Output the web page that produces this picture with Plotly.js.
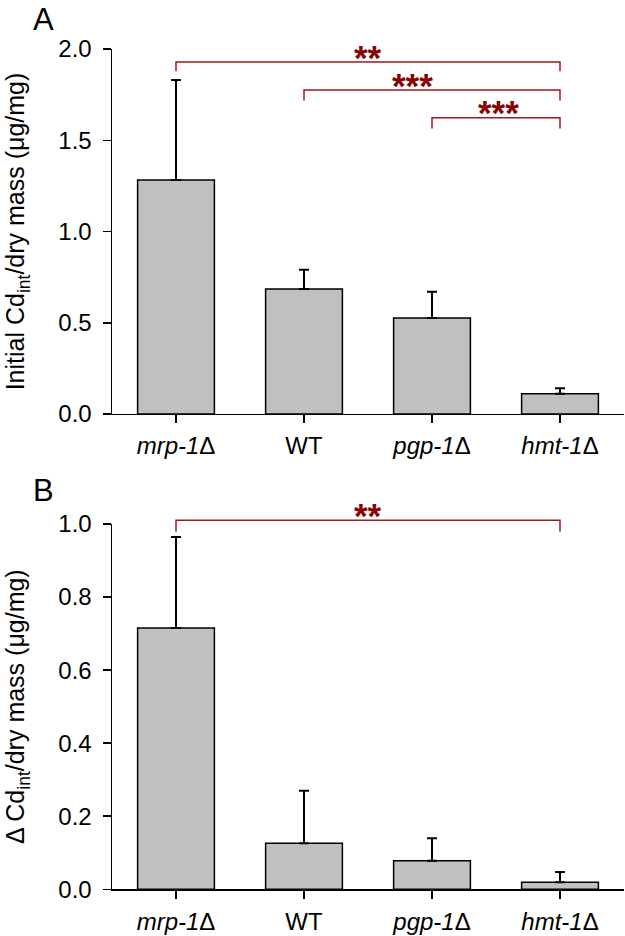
<!DOCTYPE html>
<html>
<head>
<meta charset="utf-8">
<script src="https://cdn.plot.ly/plotly-3.0.1.min.js"></script>
<style>
html,body{margin:0;padding:0;background:#fff;}
#chart{width:625px;height:936px;}
</style>
</head>
<body>
<div id="chart"></div>
<script>
// ---- data ----
const categories = ['mrp-1Δ', 'WT', 'pgp-1Δ', 'hmt-1Δ'];
const tickLabels = ['<i>mrp-1</i>Δ', 'WT', '<i>pgp-1</i>Δ', '<i>hmt-1</i>Δ'];

// Panel A: initial Cd_int / dry mass (µg/mg), mean and upper error
const initialCd = [1.282, 0.685, 0.526, 0.111];
const initialCdErr = [0.548, 0.106, 0.144, 0.030];

// Panel B: delta Cd_int / dry mass (µg/mg), mean and upper error
const deltaCd = [0.715, 0.126, 0.078, 0.019];
const deltaCdErr = [0.249, 0.144, 0.062, 0.028];

// significance comparisons (category index pairs), bracket level, label
const sigPairsA = [[0, 3], [1, 3], [2, 3]];
const sigLevelA = [1.929, 1.775, 1.624];
const sigLegA = [1.878, 1.718, 1.565];
const sigLabelA = ['**', '***', '***'];
const sigLabelXA = [1.5, 1.845, 2.518];

const sigPairsB = [[0, 3]];
const sigLevelB = [1.010];
const sigLegB = [0.979];
const sigLabelB = ['**'];
const sigLabelXB = [1.5];

// ---- styles ----
const FONT = 'Liberation Sans, Arial, sans-serif';
const barColor = '#c0c0c0';
const sigLineColor = '#a3191c';
const sigTextColor = '#8b0000';
const yRangeA = [0, 2.0];
const yRangeB = [0, 1.0];

function barTrace(y, err, xa, ya) {
  return {
    type: 'bar',
    x: categories,
    y: y,
    xaxis: xa,
    yaxis: ya,
    width: 0.6,
    marker: {color: barColor, line: {color: '#000', width: 1.5}},
    error_y: {
      type: 'data', symmetric: false,
      array: err, arrayminus: err.map(() => 0),
      color: '#000', thickness: 2, width: 5
    },
    hoverinfo: 'skip',
    showlegend: false
  };
}

const traces = [
  barTrace(initialCd, initialCdErr, 'x', 'y'),
  barTrace(deltaCd, deltaCdErr, 'x2', 'y2')
];

const shapes = [];
const annotations = [];
const nCat = categories.length;
function catDom(i) { return (i + 0.5) / nCat; }

function addBrackets(pairs, level, leg, labels, labelX, xa, ya, yMax) {
  pairs.forEach((p, k) => {
    const xd0 = catDom(p[0]), xd1 = catDom(p[1]);
    const yl = level[k] / yMax, yg = leg[k] / yMax;
    shapes.push({
      type: 'path',
      xref: xa + ' domain', yref: ya + ' domain',
      path: `M${xd0},${yg} L${xd0},${yl} L${xd1},${yl} L${xd1},${yg}`,
      line: {color: sigLineColor, width: 1.5}
    });
    annotations.push({
      xref: xa + ' domain', yref: ya + ' domain',
      x: (labelX[k] + 0.5) / nCat, y: yl,
      text: labels[k], showarrow: false,
      xanchor: 'center', yanchor: 'middle', yshift: 5,
      font: {family: FONT, size: 35, color: sigTextColor, weight: 'bold'}
    });
  });
}
addBrackets(sigPairsA, sigLevelA, sigLegA, sigLabelA, sigLabelXA, 'x', 'y', yRangeA[1]);
addBrackets(sigPairsB, sigLevelB, sigLegB, sigLabelB, sigLabelXB, 'x2', 'y2', yRangeB[1]);

annotations.push({xref: 'paper', yref: 'paper', x: -0.134, y: 1, text: 'A',
  showarrow: false, xanchor: 'center', yanchor: 'top', font: {family: FONT, size: 31, color: '#000'}});
annotations.push({xref: 'paper', yref: 'paper', x: -0.134, y: 0.476, text: 'B',
  showarrow: false, xanchor: 'center', yanchor: 'middle', font: {family: FONT, size: 31, color: '#000'}});

function xAxis(anchor) {
  return {
    anchor: anchor, domain: [0, 1], type: 'category',
    range: [-0.5, 3.5],
    tickmode: 'array', tickvals: categories, ticktext: tickLabels,
    showline: true, linecolor: '#000', linewidth: 1.5,
    ticks: 'outside', ticklen: 8, tickwidth: 1.5, tickcolor: '#000',
    ticklabelstandoff: 2,
    tickfont: {family: FONT, size: 24, color: '#000'},
    showgrid: false, zeroline: false, fixedrange: true
  };
}
function yAxis(anchor, domain, range, dtick, title) {
  return {
    anchor: anchor, domain: domain, range: range, dtick: dtick, tick0: 0,
    tickformat: '.1f',
    showline: true, linecolor: '#000', linewidth: 1.5,
    ticks: 'outside', ticklen: 8, tickwidth: 1.5, tickcolor: '#000',
    ticklabelstandoff: 6,
    tickfont: {family: FONT, size: 24, color: '#000'},
    showgrid: false, zeroline: false, fixedrange: true,
    title: {text: title, font: {family: FONT, size: 25, color: '#000'}, standoff: 26}
  };
}

const layout = {
  width: 625, height: 936,
  margin: {l: 112, r: 1, t: 0, b: 0},
  paper_bgcolor: '#fff', plot_bgcolor: '#fff',
  font: {family: FONT, color: '#000'},
  showlegend: false,
  bargap: 0.4,
  xaxis: xAxis('y'),
  yaxis: yAxis('x', [0.5577, 0.9476], yRangeA, 0.5, 'Initial Cd<sub>int</sub>/dry mass (μg/mg)'),
  xaxis2: xAxis('y2'),
  yaxis2: yAxis('x2', [0.0499, 0.4402], yRangeB, 0.2, 'Δ Cd<sub>int</sub>/dry mass (μg/mg)'),
  shapes: shapes,
  annotations: annotations
};

Plotly.newPlot('chart', traces, layout, {displayModeBar: false, staticPlot: true});
</script>
</body>
</html>
